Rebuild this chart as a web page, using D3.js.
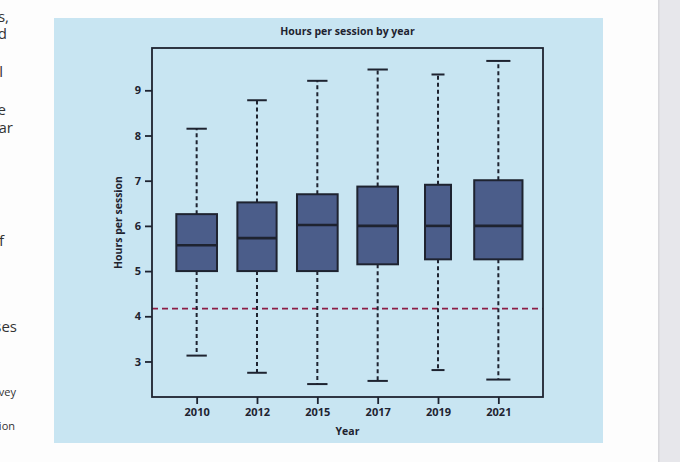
<!DOCTYPE html>
<html>
  <head>
    <meta charset="utf-8" />
    <title>Hours per session by year</title>
    <script src="https://d3js.org/d3.v7.min.js"></script>
    <style>
        body{
            margin: 0;
            background: #fdfdfd;
            overflow: hidden;
        }
        text{
            font-family: "Open Sans", "Noto Sans", sans-serif;
        }
    </style>
  </head>
  <body>
      <svg id="vis"></svg>

    <script>
        var width = 680;
        var height = 462;

        // box plot stats per year
        var years = ["2010", "2012", "2015", "2017", "2019", "2021"];
        var whiskerLow = [3.13, 2.75, 2.50, 2.57, 2.81, 2.60];
        var q1 = [5.00, 5.00, 5.00, 5.15, 5.26, 5.26];
        var median = [5.57, 5.73, 6.02, 6.00, 6.00, 6.00];
        var q3 = [6.26, 6.52, 6.70, 6.87, 6.91, 7.01];
        var whiskerHigh = [8.15, 8.78, 9.21, 9.46, 9.35, 9.65];
        // sample sizes (box width ~ sqrt(n))
        var sampleSizes = [710, 660, 710, 710, 290, 1000];
        var yTicks = [3, 4, 5, 6, 7, 8, 9];
        var refValue = 4.17;

        // bits of page text cut off at the left edge
        var sideText = [
            {t: "s,", y: 22, x: 9, small: false},
            {t: "d", y: 39, x: 7, small: false},
            {t: "l", y: 77, x: 3, small: false},
            {t: "e", y: 115, x: 6, small: false},
            {t: "ear", y: 133, x: 13, small: false},
            {t: "f", y: 246, x: 4, small: false},
            {t: "ses", y: 332, x: 17, small: false},
            {t: "rvey", y: 396, x: 16, small: true},
            {t: "tion", y: 430, x: 15, small: true}
        ];

        var data = years.map(function(d, i) {
            return {year: d, lo: whiskerLow[i], q1: q1[i], med: median[i],
                    q3: q3[i], hi: whiskerHigh[i], n: sampleSizes[i]};
        });

        var svg = d3.select("#vis").attr("width", width).attr("height", height);

        // scrollbar strip on the right
        svg.append("rect").attr("x", 658).attr("y", 0).attr("width", 22).attr("height", height)
            .attr("fill", "#e7e7eb");
        svg.append("rect").attr("x", 658).attr("y", 0).attr("width", 1.5).attr("height", height)
            .attr("fill", "#d8d8dc");

        svg.selectAll(".side").data(sideText).enter().append("text")
            .attr("x", function(d) { return d.x; })
            .attr("y", function(d) { return d.y; })
            .attr("text-anchor", "end")
            .attr("fill", "#333")
            .style("font-size", function(d) { return d.small ? "11px" : "15px"; })
            .text(function(d) { return d.t; });

        // chart panel
        svg.append("rect").attr("x", 54).attr("y", 18).attr("width", 549).attr("height", 425)
            .attr("fill", "#c8e5f2");

        var plotL = 152, plotR = 543, plotT = 48, plotB = 397;
        var ink = "#1e2330";

        var x = d3.scalePoint().domain(years).range([plotL, plotR]).padding(0.74);

        var lo = d3.min(whiskerLow), hi = d3.max(whiskerHigh);
        var pad = 0.04 * (hi - lo);
        var y = d3.scaleLinear().domain([lo - pad, hi + pad]).range([plotB, plotT]);

        var maxN = d3.max(sampleSizes);
        var maxW = 0.8 * x.step();
        function boxW(d) { return maxW * Math.sqrt(d.n / maxN); }

        var g = svg.append("g");

        // reference line
        g.append("line")
            .attr("x1", plotL).attr("x2", plotR)
            .attr("y1", y(refValue)).attr("y2", y(refValue))
            .attr("stroke", "#8c1d45").attr("stroke-width", 1.6)
            .attr("stroke-dasharray", "6,4");

        var boxes = g.selectAll(".box").data(data).enter().append("g").attr("class", "box");

        // whiskers
        boxes.append("line")
            .attr("x1", function(d) { return x(d.year); })
            .attr("x2", function(d) { return x(d.year); })
            .attr("y1", function(d) { return y(d.q3); })
            .attr("y2", function(d) { return y(d.hi); })
            .attr("stroke", ink).attr("stroke-width", 2).attr("stroke-dasharray", "4,3");
        boxes.append("line")
            .attr("x1", function(d) { return x(d.year); })
            .attr("x2", function(d) { return x(d.year); })
            .attr("y1", function(d) { return y(d.q1); })
            .attr("y2", function(d) { return y(d.lo); })
            .attr("stroke", ink).attr("stroke-width", 2).attr("stroke-dasharray", "4,3");

        // caps
        ["hi", "lo"].forEach(function(k) {
            boxes.append("line")
                .attr("x1", function(d) { return x(d.year) - boxW(d) / 4; })
                .attr("x2", function(d) { return x(d.year) + boxW(d) / 4; })
                .attr("y1", function(d) { return y(d[k]); })
                .attr("y2", function(d) { return y(d[k]); })
                .attr("stroke", ink).attr("stroke-width", 2);
        });

        boxes.append("rect")
            .attr("x", function(d) { return x(d.year) - boxW(d) / 2; })
            .attr("width", boxW)
            .attr("y", function(d) { return y(d.q3); })
            .attr("height", function(d) { return y(d.q1) - y(d.q3); })
            .attr("fill", "#4b5d8a").attr("stroke", ink).attr("stroke-width", 2);

        boxes.append("line")
            .attr("x1", function(d) { return x(d.year) - boxW(d) / 2; })
            .attr("x2", function(d) { return x(d.year) + boxW(d) / 2; })
            .attr("y1", function(d) { return y(d.med); })
            .attr("y2", function(d) { return y(d.med); })
            .attr("stroke", ink).attr("stroke-width", 2.6);

        // frame
        svg.append("rect").attr("x", plotL).attr("y", plotT)
            .attr("width", plotR - plotL).attr("height", plotB - plotT)
            .attr("fill", "none").attr("stroke", ink).attr("stroke-width", 1.8);

        // axes
        var yAxis = svg.append("g").attr("transform", "translate(" + plotL + ",0)")
            .call(d3.axisLeft(y).tickValues(yTicks).tickSize(7).tickPadding(4));
        var xAxis = svg.append("g").attr("transform", "translate(0," + plotB + ")")
            .call(d3.axisBottom(x).tickSize(7).tickPadding(4));

        [yAxis, xAxis].forEach(function(a) {
            a.select(".domain").remove();
            a.selectAll(".tick line").attr("stroke", ink).attr("stroke-width", 1.8);
            a.selectAll(".tick text").attr("fill", ink)
                .style("font-size", "11px").style("font-weight", "700")
                .style("font-family", "'Open Sans', 'Noto Sans', sans-serif");
        });

        svg.append("text")
            .attr("x", (plotL + plotR) / 2).attr("y", 35)
            .attr("text-anchor", "middle").attr("fill", ink)
            .style("font-size", "10.5px").style("font-weight", "700")
            .text("Hours per session by year");

        svg.append("text")
            .attr("x", (plotL + plotR) / 2).attr("y", 435)
            .attr("text-anchor", "middle").attr("fill", ink)
            .style("font-size", "10.5px").style("font-weight", "700")
            .text("Year");

        svg.append("text")
            .attr("transform", "translate(122," + (plotT + plotB) / 2 + ") rotate(-90)")
            .attr("text-anchor", "middle").attr("fill", ink)
            .style("font-size", "10.5px").style("font-weight", "700")
            .text("Hours per session");
    </script>
  </body>
</html>
